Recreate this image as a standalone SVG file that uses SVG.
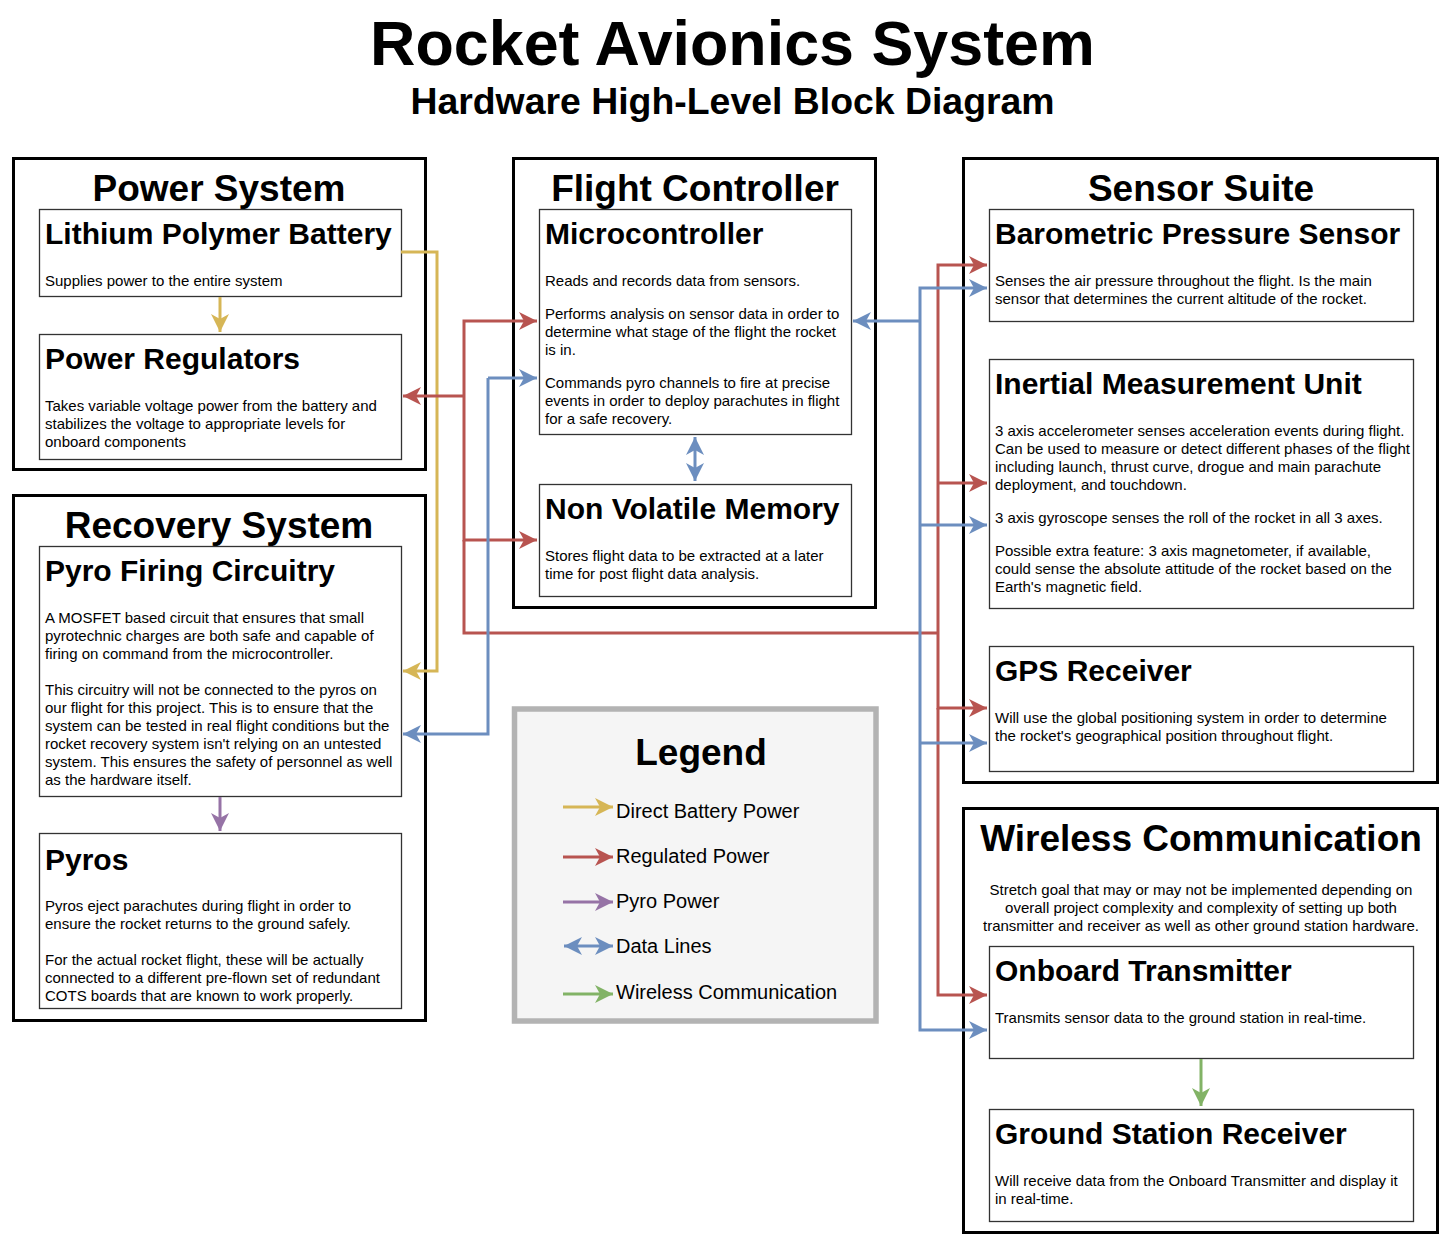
<svg xmlns="http://www.w3.org/2000/svg" width="1453" height="1243" viewBox="0 0 1453 1243">
  <style>
    text { font-family: "Liberation Sans", Arial, Helvetica, sans-serif; fill: #000; }
    .t1 { font-size: 62.8px; font-weight: bold; text-anchor: middle; }
    .t2 { font-size: 37.4px; font-weight: bold; text-anchor: middle; }
    .ct { font-size: 37px; font-weight: bold; text-anchor: middle; }
    .bt { font-size: 30px; font-weight: bold; }
    .tx { font-size: 15px; }
    .txc { font-size: 15px; text-anchor: middle; }
    .lg { font-size: 20px; }
    .container { fill: #fff; stroke: #000; stroke-width: 3; }
    .block { fill: #fff; stroke: #333; stroke-width: 1.3; }
    .legend { fill: #f5f5f5; stroke: #b3b3b3; stroke-width: 5.5; }
    .edge { fill: none; stroke-width: 3; }
    .yel { stroke: #d6b656; }
    .red { stroke: #b85450; }
    .pur { stroke: #9673a6; }
    .blu { stroke: #6c8ebf; }
    .grn { stroke: #82b366; }
  </style>
  <defs>
    <marker id="ah-yel" viewBox="0 0 18 18" refX="18" refY="9" markerWidth="18" markerHeight="18" markerUnits="userSpaceOnUse" orient="auto-start-reverse"><path d="M18,9 L0,0 L5,9 L0,18 Z" fill="#d6b656"/></marker>
    <marker id="ah-red" viewBox="0 0 18 18" refX="18" refY="9" markerWidth="18" markerHeight="18" markerUnits="userSpaceOnUse" orient="auto-start-reverse"><path d="M18,9 L0,0 L5,9 L0,18 Z" fill="#b85450"/></marker>
    <marker id="ah-pur" viewBox="0 0 18 18" refX="18" refY="9" markerWidth="18" markerHeight="18" markerUnits="userSpaceOnUse" orient="auto-start-reverse"><path d="M18,9 L0,0 L5,9 L0,18 Z" fill="#9673a6"/></marker>
    <marker id="ah-blu" viewBox="0 0 18 18" refX="18" refY="9" markerWidth="18" markerHeight="18" markerUnits="userSpaceOnUse" orient="auto-start-reverse"><path d="M18,9 L0,0 L5,9 L0,18 Z" fill="#6c8ebf"/></marker>
    <marker id="ah-grn" viewBox="0 0 18 18" refX="18" refY="9" markerWidth="18" markerHeight="18" markerUnits="userSpaceOnUse" orient="auto-start-reverse"><path d="M18,9 L0,0 L5,9 L0,18 Z" fill="#82b366"/></marker>
  </defs>

  <rect width="1453" height="1243" fill="#fff"/>

  <!-- heading -->
  <text class="t1" x="732.5" y="65">Rocket Avionics System</text>
  <text class="t2" x="732.5" y="114">Hardware High-Level Block Diagram</text>

  <!-- subsystem containers -->
  <g id="power-system">
    <rect class="container" x="13.5" y="158.5" width="412" height="311"/>
    <text class="ct" x="219" y="201">Power System</text>
  </g>
  <g id="recovery-system">
    <rect class="container" x="13.5" y="495.5" width="412" height="525"/>
    <text class="ct" x="219" y="538">Recovery System</text>
  </g>
  <g id="flight-controller">
    <rect class="container" x="513.5" y="158.5" width="362" height="449"/>
    <text class="ct" x="695" y="201">Flight Controller</text>
  </g>
  <g id="sensor-suite">
    <rect class="container" x="963.5" y="158.5" width="474" height="624"/>
    <text class="ct" x="1201" y="201">Sensor Suite</text>
  </g>
  <g id="wireless-communication">
    <rect class="container" x="963.5" y="808.5" width="474" height="424"/>
    <text class="ct" x="1201" y="851">Wireless Communication</text>
    <text class="txc" x="1201" y="895">Stretch goal that may or may not be implemented depending on</text>
    <text class="txc" x="1201" y="913">overall project complexity and complexity of setting up both</text>
    <text class="txc" x="1201" y="931">transmitter and receiver as well as other ground station hardware.</text>
  </g>

  <!-- blocks -->
  <g id="lipo-battery">
    <rect class="block" x="39.5" y="209.5" width="362" height="87"/>
    <text class="bt" x="45" y="244">Lithium Polymer Battery</text>
    <text class="tx" x="45" y="286">Supplies power to the entire system</text>
  </g>
  <g id="power-regulators">
    <rect class="block" x="39.5" y="334.5" width="362" height="125"/>
    <text class="bt" x="45" y="369">Power Regulators</text>
    <text class="tx" x="45" y="411">Takes variable voltage power from the battery and</text>
    <text class="tx" x="45" y="429">stabilizes the voltage to appropriate levels for</text>
    <text class="tx" x="45" y="447">onboard components</text>
  </g>
  <g id="pyro-firing-circuitry">
    <rect class="block" x="39.5" y="546.5" width="362" height="250"/>
    <text class="bt" x="45" y="581">Pyro Firing Circuitry</text>
    <text class="tx" x="45" y="623">A MOSFET based circuit that ensures that small</text>
    <text class="tx" x="45" y="641">pyrotechnic charges are both safe and capable of</text>
    <text class="tx" x="45" y="659">firing on command from the microcontroller.</text>
    <text class="tx" x="45" y="695">This circuitry will not be connected to the pyros on</text>
    <text class="tx" x="45" y="713">our flight for this project. This is to ensure that the</text>
    <text class="tx" x="45" y="731">system can be tested in real flight conditions but the</text>
    <text class="tx" x="45" y="749">rocket recovery system isn't relying on an untested</text>
    <text class="tx" x="45" y="767">system. This ensures the safety of personnel as well</text>
    <text class="tx" x="45" y="785">as the hardware itself.</text>
  </g>
  <g id="pyros">
    <rect class="block" x="39.5" y="833.5" width="362" height="175"/>
    <text class="bt" x="45" y="870">Pyros</text>
    <text class="tx" x="45" y="911">Pyros eject parachutes during flight in order to</text>
    <text class="tx" x="45" y="929">ensure the rocket returns to the ground safely.</text>
    <text class="tx" x="45" y="965">For the actual rocket flight, these will be actually</text>
    <text class="tx" x="45" y="983">connected to a different pre-flown set of redundant</text>
    <text class="tx" x="45" y="1001">COTS boards that are known to work properly.</text>
  </g>
  <g id="microcontroller">
    <rect class="block" x="539.5" y="209.5" width="312" height="225"/>
    <text class="bt" x="545" y="244">Microcontroller</text>
    <text class="tx" x="545" y="286">Reads and records data from sensors.</text>
    <text class="tx" x="545" y="319">Performs analysis on sensor data in order to</text>
    <text class="tx" x="545" y="337">determine what stage of the flight the rocket</text>
    <text class="tx" x="545" y="355">is in.</text>
    <text class="tx" x="545" y="388">Commands pyro channels to fire at precise</text>
    <text class="tx" x="545" y="406">events in order to deploy parachutes in flight</text>
    <text class="tx" x="545" y="424">for a safe recovery.</text>
  </g>
  <g id="non-volatile-memory">
    <rect class="block" x="539.5" y="484.5" width="312" height="112"/>
    <text class="bt" x="545" y="519">Non Volatile Memory</text>
    <text class="tx" x="545" y="561">Stores flight data to be extracted at a later</text>
    <text class="tx" x="545" y="579">time for post flight data analysis.</text>
  </g>
  <g id="barometric-pressure-sensor">
    <rect class="block" x="989.5" y="209.5" width="424" height="112"/>
    <text class="bt" x="995" y="244">Barometric Pressure Sensor</text>
    <text class="tx" x="995" y="286">Senses the air pressure throughout the flight. Is the main</text>
    <text class="tx" x="995" y="304">sensor that determines the current altitude of the rocket.</text>
  </g>
  <g id="inertial-measurement-unit">
    <rect class="block" x="989.5" y="359.5" width="424" height="249"/>
    <text class="bt" x="995" y="394">Inertial Measurement Unit</text>
    <text class="tx" x="995" y="436">3 axis accelerometer senses acceleration events during flight.</text>
    <text class="tx" x="995" y="454">Can be used to measure or detect different phases of the flight</text>
    <text class="tx" x="995" y="472">including launch, thrust curve, drogue and main parachute</text>
    <text class="tx" x="995" y="490">deployment, and touchdown.</text>
    <text class="tx" x="995" y="523">3 axis gyroscope senses the roll of the rocket in all 3 axes.</text>
    <text class="tx" x="995" y="556">Possible extra feature: 3 axis magnetometer, if available,</text>
    <text class="tx" x="995" y="574">could sense the absolute attitude of the rocket based on the</text>
    <text class="tx" x="995" y="592">Earth's magnetic field.</text>
  </g>
  <g id="gps-receiver">
    <rect class="block" x="989.5" y="646.5" width="424" height="125"/>
    <text class="bt" x="995" y="681">GPS Receiver</text>
    <text class="tx" x="995" y="723">Will use the global positioning system in order to determine</text>
    <text class="tx" x="995" y="741">the rocket's geographical position throughout flight.</text>
  </g>
  <g id="onboard-transmitter">
    <rect class="block" x="989.5" y="946.5" width="424" height="112"/>
    <text class="bt" x="995" y="981">Onboard Transmitter</text>
    <text class="tx" x="995" y="1023">Transmits sensor data to the ground station in real-time.</text>
  </g>
  <g id="ground-station-receiver">
    <rect class="block" x="989.5" y="1109.5" width="424" height="112"/>
    <text class="bt" x="995" y="1144">Ground Station Receiver</text>
    <text class="tx" x="995" y="1186">Will receive data from the Onboard Transmitter and display it</text>
    <text class="tx" x="995" y="1204">in real-time.</text>
  </g>

  <!-- legend -->
  <g id="legend">
    <rect class="legend" x="514.5" y="709" width="361.5" height="312"/>
    <text class="ct" x="701" y="765">Legend</text>
    <path class="edge yel" d="M563,807 H613" marker-end="url(#ah-yel)"/>
    <path class="edge red" d="M563,857 H613" marker-end="url(#ah-red)"/>
    <path class="edge pur" d="M563,902 H613" marker-end="url(#ah-pur)"/>
    <path class="edge blu" d="M564,946 H613" marker-start="url(#ah-blu)" marker-end="url(#ah-blu)"/>
    <path class="edge grn" d="M563,994 H613" marker-end="url(#ah-grn)"/>
    <text class="lg" x="616" y="818">Direct Battery Power</text>
    <text class="lg" x="616" y="863">Regulated Power</text>
    <text class="lg" x="616" y="908">Pyro Power</text>
    <text class="lg" x="616" y="953">Data Lines</text>
    <text class="lg" x="616" y="999">Wireless Communication</text>
  </g>

  <!-- connectors -->
  <g id="connectors">
    <!-- direct battery power -->
    <path class="edge yel" d="M220,297 V332" marker-end="url(#ah-yel)"/>
    <path class="edge yel" d="M401,252 H437 V671 H403" marker-end="url(#ah-yel)"/>

    <!-- regulated power -->
    <path class="edge red" d="M464,396 H403" marker-end="url(#ah-red)"/>
    <path class="edge red" d="M464,396 V321 H537" marker-end="url(#ah-red)"/>
    <path class="edge red" d="M464,396 V540 H537" marker-end="url(#ah-red)"/>
    <path class="edge red" d="M464,540 V633 H938"/>
    <path class="edge red" d="M938,633 V265 H987" marker-end="url(#ah-red)"/>
    <path class="edge red" d="M938,483 H987" marker-end="url(#ah-red)"/>
    <path class="edge red" d="M938,633 V708 H987" marker-end="url(#ah-red)"/>
    <path class="edge red" d="M938,708 V995 H987" marker-end="url(#ah-red)"/>

    <!-- pyro power -->
    <path class="edge pur" d="M220,797 V831" marker-end="url(#ah-pur)"/>

    <!-- data lines -->
    <path class="edge blu" d="M488,378 H537" marker-end="url(#ah-blu)"/>
    <path class="edge blu" d="M488,378 V734 H403" marker-end="url(#ah-blu)"/>
    <path class="edge blu" d="M695,437 V481" marker-start="url(#ah-blu)" marker-end="url(#ah-blu)"/>
    <path class="edge blu" d="M920,321 H853" marker-end="url(#ah-blu)"/>
    <path class="edge blu" d="M987,288 H920 V1030 H987" marker-start="url(#ah-blu)" marker-end="url(#ah-blu)"/>
    <path class="edge blu" d="M920,525 H987" marker-end="url(#ah-blu)"/>
    <path class="edge blu" d="M920,743 H987" marker-end="url(#ah-blu)"/>

    <!-- wireless link -->
    <path class="edge grn" d="M1201,1059 V1106" marker-end="url(#ah-grn)"/>
  </g>
</svg>
